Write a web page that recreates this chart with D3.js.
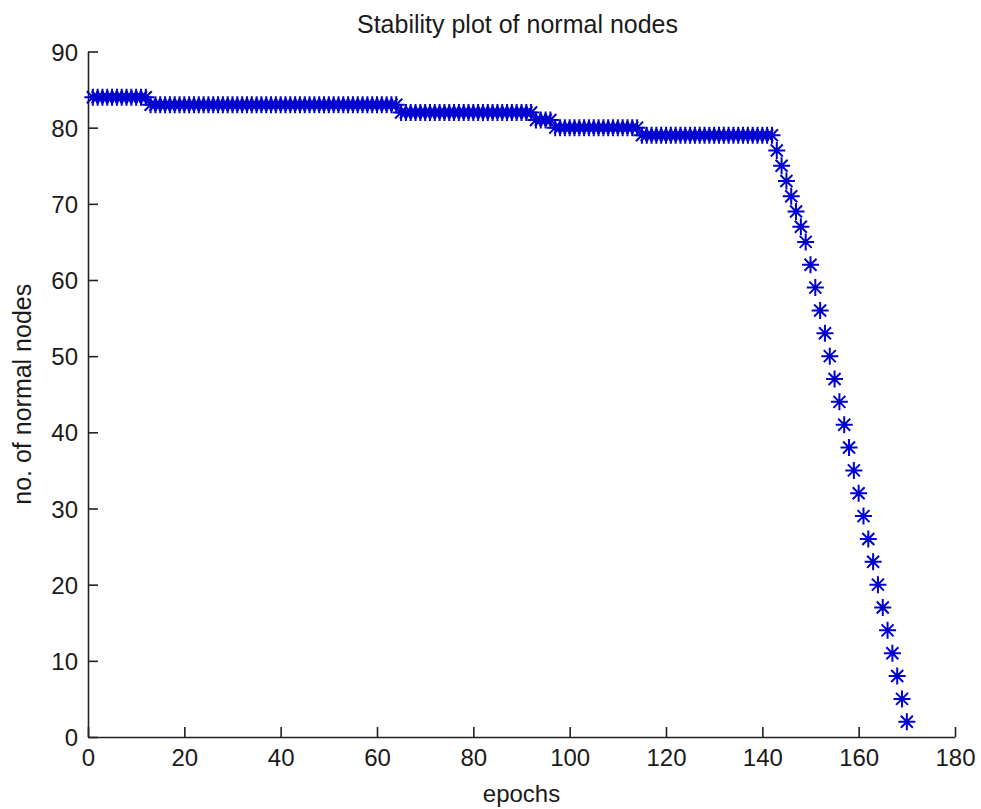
<!DOCTYPE html>
<html>
<head>
<meta charset="utf-8">
<script src="https://cdn.jsdelivr.net/npm/d3@7"></script>
<style>
    body { margin: 0; background: #fff; }
    svg text { font-family: "Liberation Sans", Arial, sans-serif; fill: #1a1a1a; }
</style>
</head>
<body>
<div id="chart"></div>
<script>
// no. of normal nodes per epoch (epochs 1..170)
let nodeCounts = [
    84, 84, 84, 84, 84, 84, 84, 84, 84, 84,
    84, 84, 83, 83, 83, 83, 83, 83, 83, 83,
    83, 83, 83, 83, 83, 83, 83, 83, 83, 83,
    83, 83, 83, 83, 83, 83, 83, 83, 83, 83,
    83, 83, 83, 83, 83, 83, 83, 83, 83, 83,
    83, 83, 83, 83, 83, 83, 83, 83, 83, 83,
    83, 83, 83, 83, 82, 82, 82, 82, 82, 82,
    82, 82, 82, 82, 82, 82, 82, 82, 82, 82,
    82, 82, 82, 82, 82, 82, 82, 82, 82, 82,
    82, 82, 81, 81, 81, 81, 80, 80, 80, 80,
    80, 80, 80, 80, 80, 80, 80, 80, 80, 80,
    80, 80, 80, 80, 79, 79, 79, 79, 79, 79,
    79, 79, 79, 79, 79, 79, 79, 79, 79, 79,
    79, 79, 79, 79, 79, 79, 79, 79, 79, 79,
    79, 79, 77, 75, 73, 71, 69, 67, 65, 62,
    59, 56, 53, 50, 47, 44, 41, 38, 35, 32,
    29, 26, 23, 20, 17, 14, 11, 8, 5, 2
];
let epochs = nodeCounts.map((d, i) => i + 1);

let xTicks = [0, 20, 40, 60, 80, 100, 120, 140, 160, 180],
    yTicks = [0, 10, 20, 30, 40, 50, 60, 70, 80, 90];

let titleText = 'Stability plot of normal nodes',
    xLabel = 'epochs',
    yLabel = 'no. of normal nodes';

let width = 981,
    height = 809,
    margin = {left: 88, top: 51.5, right: 26, bottom: 72},
    plotW = width - margin.left - margin.right,
    plotH = height - margin.top - margin.bottom;

let svg = d3.select('#chart').append('svg')
    .attr('width', width)
    .attr('height', height);

let g = svg.append('g')
    .attr('transform', `translate(${margin.left}, ${margin.top})`);

let x = d3.scaleLinear().domain([0, 180]).range([0, plotW]);
let y = d3.scaleLinear().domain([0, 90]).range([plotH, 0]);

// axes, matlab style: ticks pointing inward
let xAxis = g.append('g')
    .attr('transform', `translate(0, ${plotH})`)
    .call(d3.axisBottom(x).tickValues(xTicks).tickSizeInner(-10).tickSizeOuter(0).tickPadding(12));

let yAxis = g.append('g')
    .call(d3.axisLeft(y).tickValues(yTicks).tickSizeInner(-10).tickSizeOuter(0).tickPadding(10));

[xAxis, yAxis].forEach(a => {
    a.select('.domain').attr('stroke', '#222').attr('stroke-width', 1.6);
    a.selectAll('.tick line').attr('stroke', '#222').attr('stroke-width', 1.6);
    a.selectAll('.tick text')
        .style('font-size', '24px')
        .attr('fill', '#1a1a1a');
});
xAxis.selectAll('.tick text').attr('dy', '0.71em');
yAxis.selectAll('.tick text').attr('dy', '0.36em');

// asterisk marker: plus + cross
let arm = 8.5, diag = 6;
let starPath = `M${-arm},0H${arm}M0,${-arm}V${arm}` +
    `M${-diag},${-diag}L${diag},${diag}M${-diag},${diag}L${diag},${-diag}`;

g.append('g')
    .selectAll('path')
    .data(epochs)
    .join('path')
    .attr('transform', (d, i) => `translate(${x(d)}, ${y(nodeCounts[i])})`)
    .attr('d', starPath)
    .attr('fill', 'none')
    .attr('stroke', '#0000d0')
    .attr('stroke-width', 2);

svg.append('text')
    .attr('x', margin.left + plotW / 2 - 4)
    .attr('y', 33)
    .attr('text-anchor', 'middle')
    .style('font-size', '25px')
    .text(titleText);

svg.append('text')
    .attr('x', margin.left + plotW / 2)
    .attr('y', 802)
    .attr('text-anchor', 'middle')
    .style('font-size', '24px')
    .text(xLabel);

svg.append('text')
    .attr('transform', `translate(31, ${margin.top + plotH / 2}) rotate(-90)`)
    .attr('text-anchor', 'middle')
    .style('font-size', '25px')
    .text(yLabel);
</script>
</body>
</html>
